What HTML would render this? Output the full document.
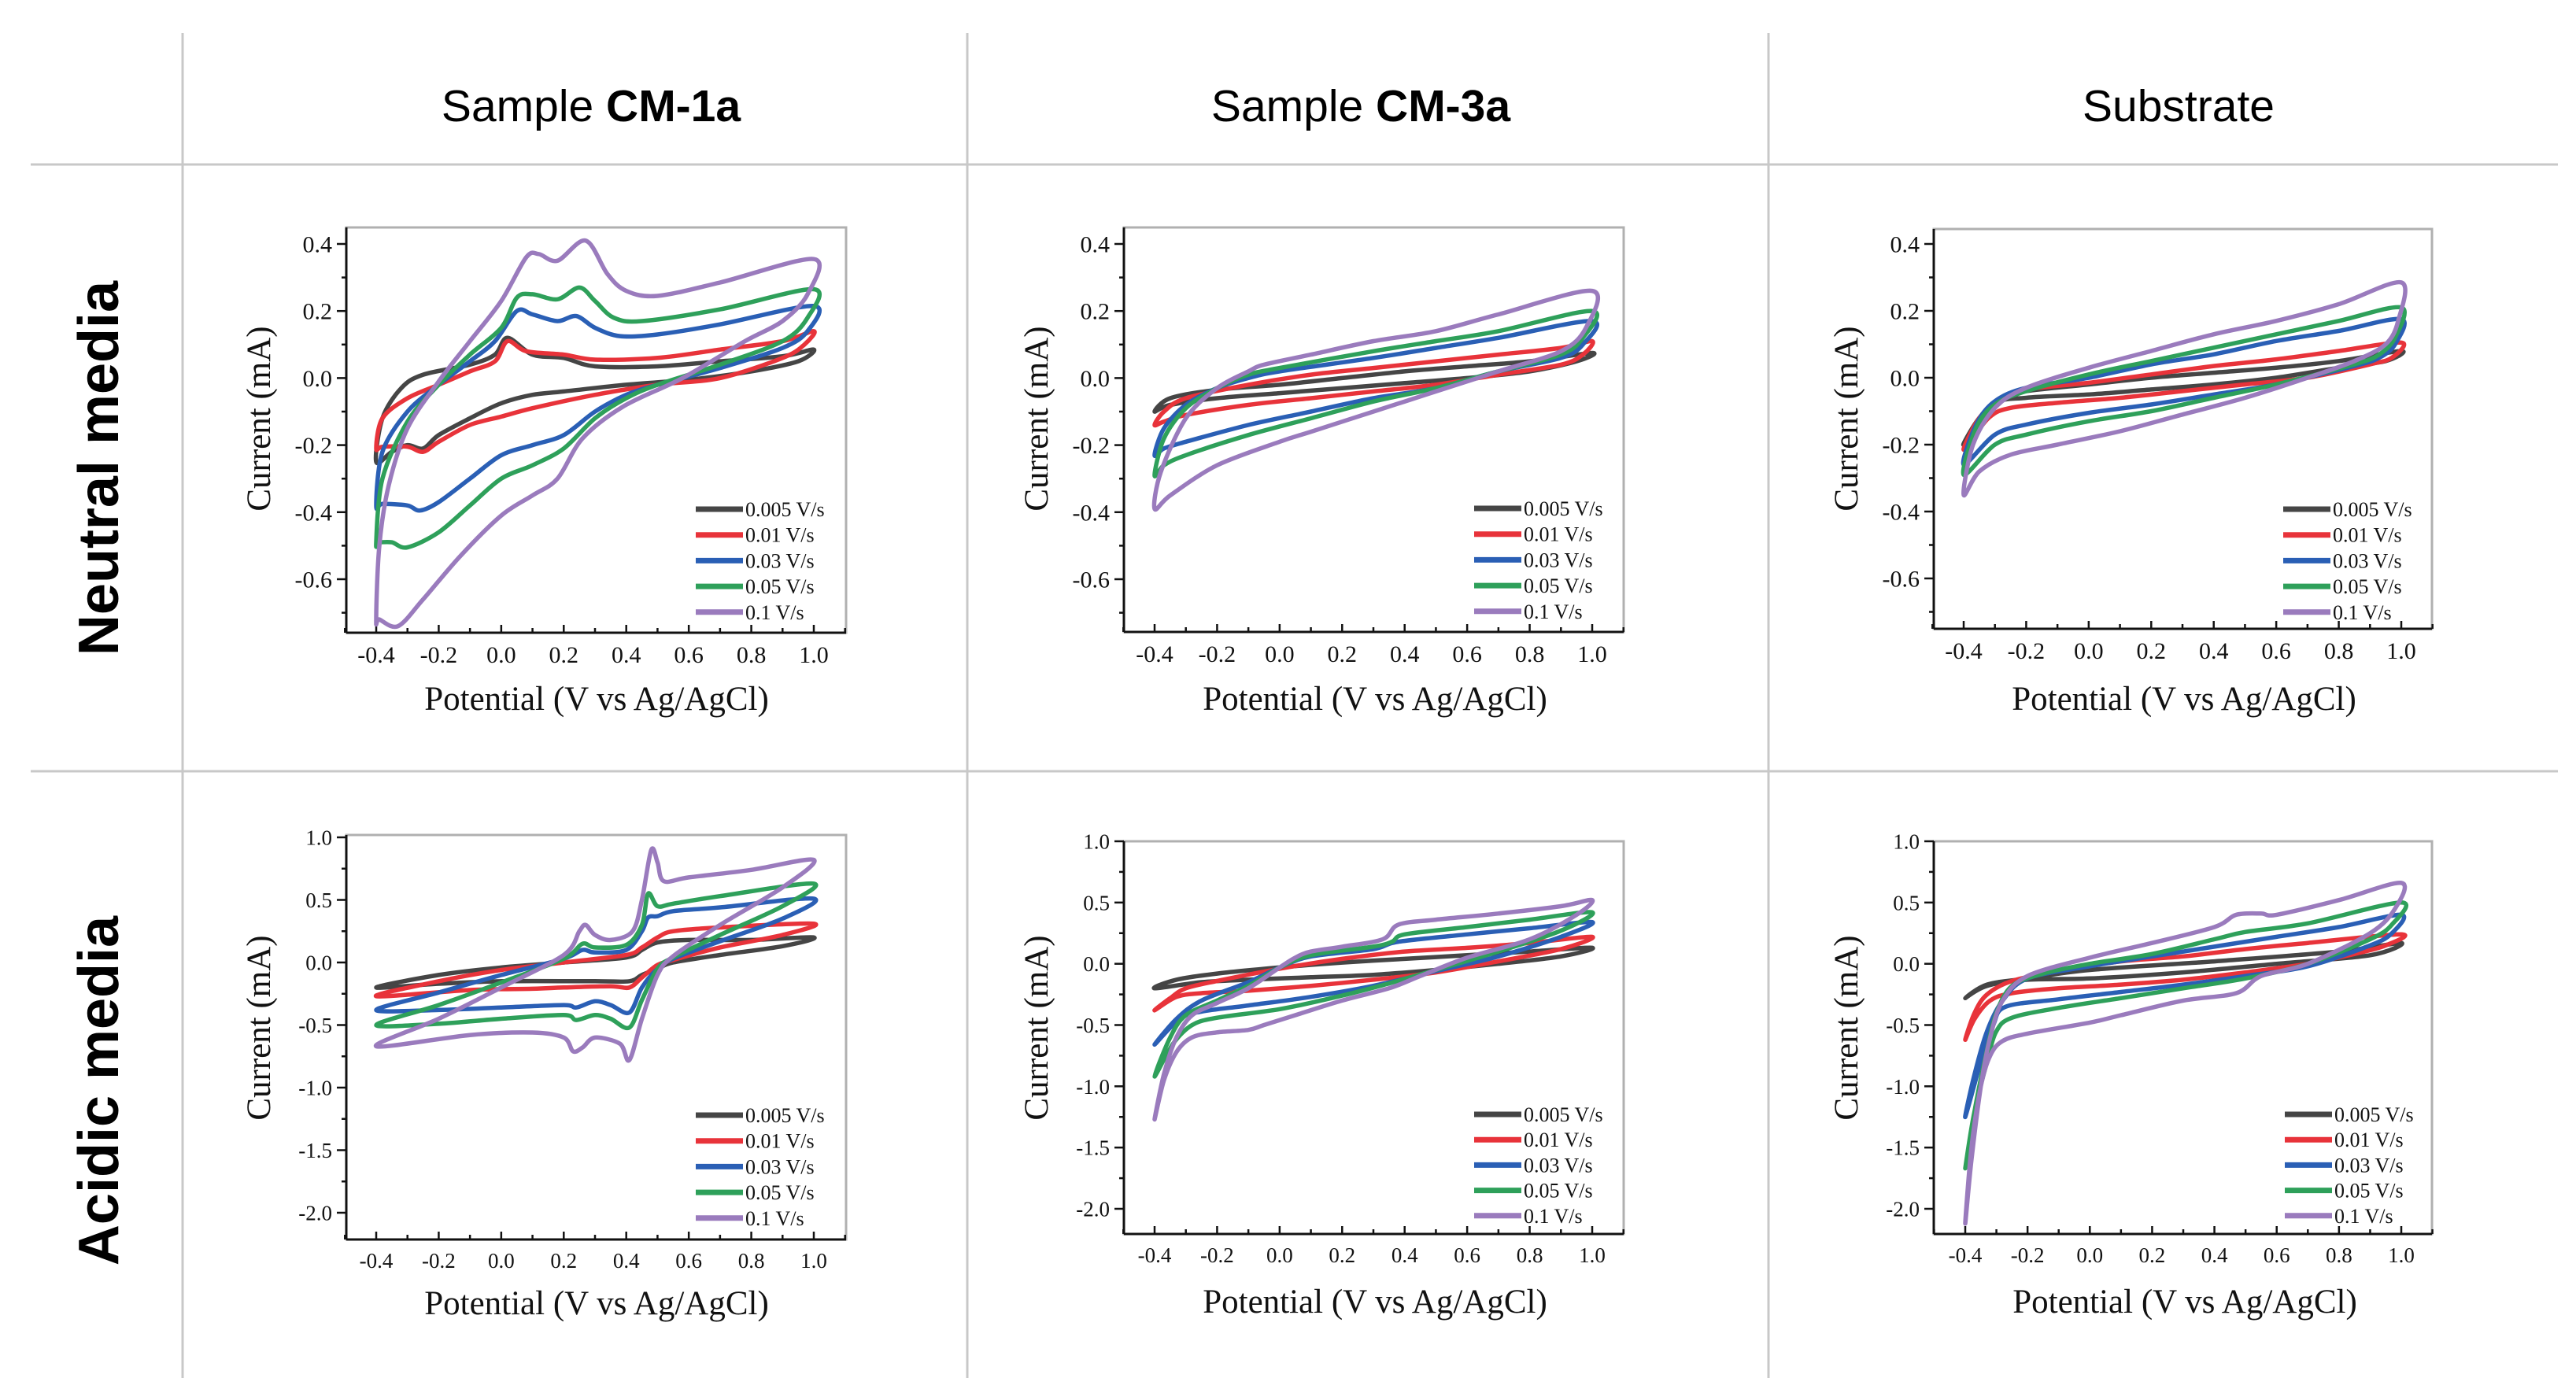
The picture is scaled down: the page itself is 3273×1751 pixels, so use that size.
<!DOCTYPE html>
<html><head><meta charset="utf-8">
<style>
html,body{margin:0;padding:0;background:#fff;}
svg{display:block;}
</style></head>
<body>
<svg id="fig" width="3273" height="1751" viewBox="0 0 3273 1751" xmlns="http://www.w3.org/2000/svg">
  <g stroke="#c8c8c8" stroke-width="3">
    <line x1="232" y1="42" x2="232" y2="1751"/>
    <line x1="1229" y1="42" x2="1229" y2="1751"/>
    <line x1="2247" y1="42" x2="2247" y2="1751"/>
    <line x1="39" y1="209" x2="3250" y2="209"/>
    <line x1="39" y1="980" x2="3250" y2="980"/>
  </g>
  <g font-family="'Liberation Sans', Arial, sans-serif" font-size="57" fill="#000" text-anchor="middle">
    <text x="751" y="154">Sample <tspan font-weight="bold">CM-1a</tspan></text>
    <text x="1729" y="154">Sample <tspan font-weight="bold">CM-3a</tspan></text>
    <text x="2768" y="154">Substrate</text>
    <text font-weight="bold" font-size="72" transform="translate(150,595) rotate(-90)">Neutral media</text>
    <text font-weight="bold" font-size="72" transform="translate(150,1386) rotate(-90)">Acidic media</text>
  </g>
  <g id="panels"></g>
</svg>
<script>
// ---- data: closed CV loops as [potential V, current mA] ----
const speeds = ["0.005 V/s","0.01 V/s","0.03 V/s","0.05 V/s","0.1 V/s"];
const colors = ["#454545","#e8333a","#2a5fb5","#2ea05a","#9a7bbd"];
const neutralYTicks = [0.4,0.2,0.0,-0.2,-0.4,-0.6];
const neutralYLabels = ["0.4","0.2","0.0","-0.2","-0.4","-0.6"];
const acidicYTicks = [1.0,0.5,0.0,-0.5,-1.0,-1.5,-2.0];
const acidicYLabels = ["1.0","0.5","0.0","-0.5","-1.0","-1.5","-2.0"];
const xTicks = [-0.4,-0.2,0.0,0.2,0.4,0.6,0.8,1.0];
const xLabels = ["-0.4","-0.2","0.0","0.2","0.4","0.6","0.8","1.0"];

// Neutral CM-1a
const nA_005 = [[-0.4,-0.25],[-0.38,-0.12],[-0.32,-0.03],[-0.25,0.01],[-0.1,0.04],[-0.02,0.07],[0.02,0.12],[0.1,0.07],[0.2,0.06],[0.3,0.035],[0.5,0.035],[0.7,0.05],[0.9,0.065],[1.0,0.085],[0.95,0.05],[0.8,0.02],[0.6,-0.005],[0.4,-0.02],[0.2,-0.04],[0.1,-0.05],[0.0,-0.075],[-0.1,-0.12],[-0.2,-0.17],[-0.25,-0.21],[-0.3,-0.2],[-0.35,-0.22]];
const nA_01 = [[-0.4,-0.21],[-0.38,-0.12],[-0.3,-0.06],[-0.2,-0.02],[-0.1,0.02],[-0.02,0.05],[0.02,0.11],[0.08,0.08],[0.2,0.07],[0.3,0.055],[0.5,0.06],[0.7,0.085],[0.9,0.11],[1.0,0.14],[0.97,0.1],[0.9,0.06],[0.7,0.0],[0.5,-0.02],[0.3,-0.05],[0.1,-0.09],[0.0,-0.115],[-0.1,-0.14],[-0.2,-0.19],[-0.25,-0.22],[-0.3,-0.205],[-0.38,-0.205]];
const nA_03 = [[-0.4,-0.38],[-0.38,-0.22],[-0.3,-0.1],[-0.2,-0.02],[-0.1,0.05],[-0.02,0.11],[0.05,0.2],[0.1,0.19],[0.18,0.17],[0.24,0.185],[0.3,0.15],[0.38,0.125],[0.5,0.13],[0.7,0.16],[1.0,0.215],[0.98,0.14],[0.9,0.09],[0.7,0.03],[0.5,-0.02],[0.4,-0.05],[0.3,-0.1],[0.2,-0.17],[0.1,-0.2],[0.0,-0.23],[-0.1,-0.3],[-0.2,-0.37],[-0.26,-0.395],[-0.3,-0.38],[-0.38,-0.375]];
const nA_05 = [[-0.4,-0.49],[-0.38,-0.3],[-0.3,-0.13],[-0.2,-0.02],[-0.1,0.07],[0.0,0.15],[0.05,0.24],[0.1,0.25],[0.18,0.235],[0.25,0.27],[0.3,0.23],[0.36,0.18],[0.45,0.17],[0.7,0.205],[1.0,0.265],[0.98,0.18],[0.9,0.11],[0.7,0.04],[0.5,-0.02],[0.4,-0.06],[0.3,-0.12],[0.2,-0.21],[0.1,-0.26],[0.0,-0.3],[-0.1,-0.38],[-0.2,-0.46],[-0.3,-0.505],[-0.35,-0.49],[-0.39,-0.49]];
const nA_1 = [[-0.4,-0.72],[-0.39,-0.5],[-0.36,-0.32],[-0.3,-0.15],[-0.2,-0.01],[-0.1,0.11],[0.0,0.23],[0.08,0.36],[0.12,0.37],[0.18,0.35],[0.27,0.41],[0.34,0.31],[0.4,0.26],[0.5,0.245],[0.7,0.285],[1.0,0.355],[0.98,0.25],[0.9,0.17],[0.78,0.11],[0.58,0.0],[0.39,-0.085],[0.26,-0.18],[0.18,-0.3],[0.1,-0.35],[0.0,-0.41],[-0.13,-0.53],[-0.25,-0.66],[-0.33,-0.74],[-0.39,-0.72]];
// Neutral CM-3a
const nB_005 = [[-0.4,-0.1],[-0.35,-0.06],[-0.2,-0.035],[0.0,-0.02],[0.2,0.0],[0.4,0.02],[0.6,0.035],[0.8,0.05],[1.0,0.075],[0.95,0.05],[0.8,0.02],[0.6,0.0],[0.4,-0.015],[0.2,-0.03],[0.0,-0.045],[-0.2,-0.06],[-0.35,-0.08]];
const nB_01 = [[-0.4,-0.14],[-0.37,-0.1],[-0.3,-0.06],[-0.1,-0.02],[0.1,0.01],[0.3,0.03],[0.5,0.05],[0.7,0.07],[0.9,0.09],[1.0,0.11],[0.97,0.07],[0.9,0.04],[0.7,0.01],[0.5,-0.02],[0.3,-0.04],[0.1,-0.06],[-0.1,-0.08],[-0.3,-0.11],[-0.37,-0.13]];
const nB_03 = [[-0.4,-0.23],[-0.37,-0.15],[-0.3,-0.08],[-0.2,-0.03],[-0.1,0.0],[0.0,0.02],[0.3,0.06],[0.5,0.09],[0.7,0.12],[1.0,0.17],[0.97,0.1],[0.9,0.06],[0.7,0.02],[0.5,-0.03],[0.3,-0.06],[0.1,-0.1],[-0.1,-0.14],[-0.3,-0.19],[-0.37,-0.21]];
const nB_05 = [[-0.4,-0.29],[-0.37,-0.18],[-0.3,-0.09],[-0.2,-0.03],[-0.1,0.01],[0.0,0.03],[0.3,0.08],[0.5,0.11],[0.7,0.14],[1.0,0.2],[0.97,0.12],[0.9,0.07],[0.7,0.02],[0.5,-0.03],[0.3,-0.07],[0.1,-0.12],[-0.1,-0.17],[-0.3,-0.23],[-0.37,-0.26]];
const nB_1 = [[-0.4,-0.39],[-0.38,-0.28],[-0.3,-0.12],[-0.2,-0.03],[-0.1,0.02],[-0.05,0.04],[0.1,0.07],[0.3,0.11],[0.5,0.14],[0.7,0.19],[1.0,0.26],[0.98,0.15],[0.9,0.08],[0.7,0.02],[0.5,-0.04],[0.3,-0.1],[0.1,-0.16],[0.0,-0.19],[-0.2,-0.26],[-0.35,-0.35]];
// Neutral substrate
const nC_005 = [[-0.4,-0.2],[-0.35,-0.12],[-0.28,-0.06],[-0.2,-0.04],[0.0,-0.02],[0.2,0.0],[0.4,0.015],[0.6,0.03],[0.8,0.05],[1.0,0.08],[0.95,0.05],[0.8,0.03],[0.6,0.0],[0.4,-0.02],[0.2,-0.035],[0.0,-0.05],[-0.2,-0.06],[-0.3,-0.08]];
const nC_01 = [[-0.4,-0.215],[-0.35,-0.12],[-0.28,-0.06],[-0.2,-0.035],[0.0,-0.015],[0.2,0.01],[0.4,0.035],[0.6,0.055],[0.8,0.08],[1.0,0.105],[0.97,0.06],[0.9,0.04],[0.7,0.0],[0.5,-0.02],[0.3,-0.04],[0.1,-0.06],[-0.1,-0.075],[-0.25,-0.09],[-0.32,-0.12]];
const nC_03 = [[-0.4,-0.26],[-0.36,-0.14],[-0.3,-0.07],[-0.2,-0.03],[0.0,0.0],[0.2,0.04],[0.4,0.07],[0.6,0.11],[0.8,0.14],[1.0,0.175],[0.98,0.1],[0.93,0.06],[0.85,0.035],[0.6,-0.02],[0.4,-0.05],[0.2,-0.08],[0.0,-0.105],[-0.2,-0.14],[-0.3,-0.17]];
const nC_05 = [[-0.4,-0.29],[-0.36,-0.15],[-0.3,-0.08],[-0.2,-0.04],[0.0,0.01],[0.2,0.05],[0.4,0.09],[0.6,0.13],[0.8,0.17],[1.0,0.21],[0.98,0.12],[0.93,0.07],[0.85,0.04],[0.6,-0.02],[0.4,-0.06],[0.2,-0.1],[0.0,-0.13],[-0.2,-0.17],[-0.3,-0.2]];
const nC_1 = [[-0.4,-0.35],[-0.37,-0.2],[-0.3,-0.09],[-0.2,-0.03],[0.0,0.03],[0.2,0.08],[0.4,0.13],[0.6,0.17],[0.8,0.22],[1.0,0.285],[0.99,0.17],[0.95,0.1],[0.85,0.05],[0.7,0.0],[0.5,-0.06],[0.3,-0.11],[0.1,-0.16],[-0.1,-0.2],[-0.25,-0.23],[-0.35,-0.28]];
// Acidic CM-1a
const aD_005 = [[-0.4,-0.2],[-0.2,-0.1],[0.0,-0.04],[0.2,0.0],[0.4,0.04],[0.45,0.1],[0.5,0.16],[0.6,0.18],[0.8,0.18],[1.0,0.2],[0.9,0.13],[0.7,0.06],[0.55,0.0],[0.5,-0.05],[0.45,-0.1],[0.41,-0.15],[0.3,-0.15],[0.0,-0.15],[-0.2,-0.17]];
const aD_01 = [[-0.4,-0.27],[-0.2,-0.15],[0.0,-0.06],[0.2,0.0],[0.4,0.06],[0.45,0.12],[0.5,0.2],[0.55,0.25],[0.7,0.28],[1.0,0.31],[0.9,0.22],[0.7,0.12],[0.55,0.02],[0.5,-0.02],[0.45,-0.12],[0.41,-0.2],[0.35,-0.19],[0.2,-0.2],[0.1,-0.21],[-0.1,-0.22]];
const aD_03 = [[-0.4,-0.38],[-0.2,-0.24],[0.0,-0.1],[0.2,0.03],[0.26,0.1],[0.3,0.08],[0.4,0.1],[0.45,0.25],[0.47,0.36],[0.5,0.37],[0.55,0.41],[0.7,0.44],[1.0,0.51],[0.9,0.35],[0.7,0.17],[0.55,0.03],[0.5,-0.05],[0.45,-0.2],[0.41,-0.4],[0.35,-0.34],[0.3,-0.31],[0.24,-0.36],[0.2,-0.34],[0.0,-0.36],[-0.2,-0.38]];
const aD_05 = [[-0.4,-0.5],[-0.2,-0.34],[0.0,-0.16],[0.2,0.03],[0.26,0.15],[0.3,0.12],[0.4,0.14],[0.45,0.3],[0.47,0.55],[0.5,0.45],[0.55,0.47],[0.7,0.53],[1.0,0.63],[0.9,0.45],[0.7,0.22],[0.55,0.04],[0.5,-0.05],[0.45,-0.3],[0.41,-0.52],[0.35,-0.45],[0.3,-0.42],[0.24,-0.46],[0.2,-0.42],[0.0,-0.45],[-0.2,-0.49]];
const aD_1 = [[-0.4,-0.67],[-0.2,-0.45],[0.0,-0.2],[0.2,0.06],[0.25,0.25],[0.27,0.3],[0.3,0.22],[0.35,0.18],[0.42,0.25],[0.45,0.5],[0.48,0.9],[0.5,0.8],[0.52,0.65],[0.6,0.68],[0.8,0.74],[1.0,0.82],[0.9,0.6],[0.7,0.3],[0.55,0.05],[0.5,-0.1],[0.45,-0.45],[0.41,-0.78],[0.38,-0.65],[0.3,-0.6],[0.26,-0.68],[0.23,-0.71],[0.2,-0.6],[0.1,-0.56],[-0.1,-0.58]];
// Acidic CM-3a
const aE_005 = [[-0.4,-0.2],[-0.33,-0.13],[-0.2,-0.08],[0.0,-0.03],[0.2,0.01],[0.4,0.04],[0.6,0.07],[0.8,0.1],[1.0,0.13],[0.9,0.06],[0.7,0.0],[0.5,-0.05],[0.3,-0.09],[0.1,-0.11],[-0.1,-0.13],[-0.25,-0.15]];
const aE_01 = [[-0.4,-0.38],[-0.35,-0.28],[-0.3,-0.2],[-0.2,-0.14],[0.0,-0.04],[0.2,0.04],[0.4,0.1],[0.6,0.13],[0.8,0.17],[1.0,0.22],[0.9,0.12],[0.7,0.02],[0.5,-0.07],[0.3,-0.13],[0.1,-0.18],[-0.1,-0.22],[-0.25,-0.24],[-0.33,-0.27]];
const aE_03 = [[-0.4,-0.66],[-0.33,-0.45],[-0.25,-0.3],[-0.1,-0.15],[0.0,-0.03],[0.1,0.06],[0.3,0.12],[0.38,0.18],[0.6,0.24],[0.8,0.29],[1.0,0.34],[0.9,0.22],[0.7,0.06],[0.5,-0.06],[0.3,-0.18],[0.1,-0.27],[-0.1,-0.34],[-0.25,-0.39],[-0.32,-0.45]];
const aE_05 = [[-0.4,-0.92],[-0.35,-0.6],[-0.3,-0.42],[-0.2,-0.3],[-0.1,-0.18],[0.0,-0.03],[0.1,0.07],[0.3,0.14],[0.36,0.18],[0.4,0.24],[0.6,0.3],[0.8,0.36],[1.0,0.42],[0.9,0.27],[0.7,0.1],[0.5,-0.05],[0.35,-0.16],[0.2,-0.26],[0.0,-0.37],[-0.2,-0.44],[-0.28,-0.5],[-0.34,-0.65]];
const aE_1 = [[-0.4,-1.27],[-0.37,-0.9],[-0.33,-0.6],[-0.28,-0.42],[-0.2,-0.32],[-0.1,-0.2],[0.0,-0.03],[0.05,0.05],[0.1,0.1],[0.2,0.14],[0.33,0.2],[0.38,0.32],[0.5,0.36],[0.7,0.41],[0.9,0.47],[1.0,0.52],[0.95,0.4],[0.8,0.2],[0.6,0.05],[0.45,-0.1],[0.35,-0.2],[0.2,-0.3],[0.05,-0.42],[-0.05,-0.5],[-0.1,-0.54],[-0.2,-0.56],[-0.28,-0.6],[-0.33,-0.72],[-0.37,-0.95]];
// Acidic substrate
const aF_005 = [[-0.4,-0.28],[-0.33,-0.17],[-0.2,-0.12],[0.0,-0.05],[0.4,0.02],[0.8,0.1],[1.0,0.17],[0.9,0.07],[0.6,0.0],[0.3,-0.07],[0.0,-0.12],[-0.2,-0.13],[-0.33,-0.18]];
const aF_01 = [[-0.4,-0.62],[-0.37,-0.4],[-0.33,-0.25],[-0.25,-0.14],[-0.1,-0.06],[0.1,0.02],[0.3,0.06],[0.5,0.12],[0.7,0.17],[1.0,0.24],[0.95,0.15],[0.85,0.08],[0.7,0.0],[0.5,-0.07],[0.3,-0.13],[0.1,-0.17],[-0.1,-0.2],[-0.25,-0.24],[-0.32,-0.3],[-0.37,-0.45]];
const aF_03 = [[-0.4,-1.25],[-0.37,-0.9],[-0.33,-0.55],[-0.28,-0.3],[-0.2,-0.12],[0.0,-0.02],[0.2,0.06],[0.4,0.14],[0.6,0.22],[0.8,0.3],[1.0,0.4],[0.97,0.25],[0.9,0.15],[0.7,-0.02],[0.5,-0.1],[0.3,-0.17],[0.1,-0.23],[-0.1,-0.29],[-0.27,-0.35],[-0.31,-0.5],[-0.35,-0.8]];
const aF_05 = [[-0.4,-1.67],[-0.37,-1.2],[-0.33,-0.7],[-0.3,-0.4],[-0.25,-0.18],[-0.15,-0.08],[0.0,0.0],[0.2,0.08],[0.4,0.2],[0.5,0.26],[0.7,0.33],[1.0,0.5],[0.97,0.32],[0.9,0.2],[0.7,0.0],[0.5,-0.12],[0.3,-0.2],[0.1,-0.28],[-0.1,-0.36],[-0.25,-0.44],[-0.3,-0.55],[-0.33,-0.8],[-0.37,-1.2]];
const aF_1 = [[-0.4,-2.12],[-0.38,-1.6],[-0.35,-1.0],[-0.32,-0.6],[-0.28,-0.3],[-0.2,-0.1],[0.0,0.05],[0.2,0.17],[0.4,0.3],[0.47,0.4],[0.55,0.41],[0.6,0.4],[0.8,0.52],[1.0,0.66],[0.98,0.45],[0.9,0.25],[0.7,0.0],[0.55,-0.1],[0.47,-0.24],[0.3,-0.3],[0.1,-0.42],[0.0,-0.48],[-0.2,-0.57],[-0.28,-0.63],[-0.32,-0.75],[-0.35,-1.0],[-0.38,-1.5]];

const NS = "http://www.w3.org/2000/svg";
const root = document.getElementById("panels");
function mk(tag, attrs, parent){ const e=document.createElementNS(NS,tag); for(const k in attrs) e.setAttribute(k,attrs[k]); (parent||root).appendChild(e); return e; }

function smoothPath(pts){
  const n=pts.length; let d="M"+pts[0][0].toFixed(1)+","+pts[0][1].toFixed(1);
  for(let i=0;i<n;i++){
    const p0=pts[(i-1+n)%n],p1=pts[i],p2=pts[(i+1)%n],p3=pts[(i+2)%n];
    const t=0.16;
    const c1=[p1[0]+(p2[0]-p0[0])*t,p1[1]+(p2[1]-p0[1])*t];
    const c2=[p2[0]-(p3[0]-p1[0])*t,p2[1]-(p3[1]-p1[1])*t];
    d+=" C"+c1[0].toFixed(1)+","+c1[1].toFixed(1)+" "+c2[0].toFixed(1)+","+c2[1].toFixed(1)+" "+p2[0].toFixed(1)+","+p2[1].toFixed(1);
  }
  return d+"Z";
}

function panel(cfg){
  const g=mk("g",{});
  
  
  const sx=v=>cfg.px0+(v+0.4)*(cfg.px1-cfg.px0)/1.4;
  const sy=v=>cfg.py0+(cfg.v0-v)*(cfg.py1-cfg.py0)/(cfg.v0-cfg.v1);
  const L=cfg.box[0],T=cfg.box[1],R=cfg.box[2],B=cfg.box[3];
  // frame
  const fr=mk("rect",{x:L,y:T,width:R-L,height:B-T,fill:"none",stroke:"#b0b0b0","stroke-width":3},g);
  
  
  const ya=mk("line",{x1:L,y1:T,x2:L,y2:B,stroke:"#111","stroke-width":3},g);
  
  
  const xa=mk("line",{x1:L,y1:B,x2:R,y2:B,stroke:"#111","stroke-width":3},g);
  
  
  // x ticks
  for(let k=-5;k<=11;k++){
    const v=k/10, X=sx(v), major=(k%2===0);
    const t=mk("line",{x1:X,y1:B,x2:X,y2:B-(major?10:6),stroke:"#111","stroke-width":2.5},g);
    
    
  }
  xTicks.forEach((v,i)=>{
    const t=mk("text",{x:sx(v),y:B+cfg.xlabDy,"text-anchor":"middle","font-size":cfg.tickFs,"font-family":"'Liberation Serif', serif",fill:"#111"},g);
    t.textContent=xLabels[i];
    
    
  });
  // y ticks
  const step=cfg.yTicks[0]-cfg.yTicks[1];
  const lo=cfg.yMin, hi=cfg.v0;
  for(let v=hi; v>=lo-1e-9; v-=step/2){
    const Y=sy(v); const major=cfg.yTicks.some(t=>Math.abs(t-v)<1e-6);
    const t=mk("line",{x1:L,y1:Y,x2:L-(major?12:6),y2:Y,stroke:"#111","stroke-width":2.5},g);
    
    
  }
  cfg.yTicks.forEach((v,i)=>{
    const t=mk("text",{x:L-18,y:sy(v)+cfg.tickFs*0.35,"text-anchor":"end","font-size":cfg.tickFs,"font-family":"'Liberation Serif', serif",fill:"#111"},g);
    t.textContent=cfg.yLabels[i];
    
    
  });
  // titles
  const xt=mk("text",{x:(cfg.px0+cfg.px1)/2+2,y:cfg.xTitleY,"text-anchor":"middle","font-size":43,"font-family":"'Liberation Serif', serif",fill:"#111"},g);
  xt.textContent="Potential (V vs Ag/AgCl)";
  
  
  const yt=mk("text",{transform:"translate("+cfg.yTitleX+","+cfg.yTitleY+") rotate(-90)","text-anchor":"middle","font-size":43,"font-family":"'Liberation Serif', serif",fill:"#111"},g);
  yt.textContent="Current (mA)";
  
  
  // series
  cfg.series.forEach((s,i)=>{
    const pts=s.map(p=>[sx(p[0]),sy(p[1])]);
    const p=mk("path",{d:smoothPath(pts),fill:"none",stroke:colors[i],"stroke-width":5.5,"stroke-linejoin":"round"},g);
    
    
  });
  // legend
  speeds.forEach((s,i)=>{
    const y=cfg.legY+i*cfg.legDy;
    const l=mk("line",{x1:cfg.px0+406,y1:y,x2:cfg.px0+466,y2:y,stroke:colors[i],"stroke-width":7},g);
    
    
    const t=mk("text",{x:cfg.px0+469,y:y+9,"font-size":26,"font-family":"'Liberation Serif', serif",fill:"#111"},g);
    t.textContent=s;
    
    
  });
}

const nTicks={yTicks:neutralYTicks,yLabels:neutralYLabels,v0:0.4,v1:-0.6,yMin:-0.7,tickFs:30,xlabDy:38,xTitleY:902};
const aTicks={yTicks:acidicYTicks,yLabels:acidicYLabels,v0:1.0,v1:-2.0,yMin:-2.0,tickFs:27,xlabDy:36};
panel(Object.assign({},nTicks,{name:"panel-neutral-cm1a",px0:478,px1:1034,py0:310,py1:736,box:[440,289,1075,804],yTitleX:343,yTitleY:532,legY:647,legDy:32.7,series:[nA_005,nA_01,nA_03,nA_05,nA_1]}));
panel(Object.assign({},nTicks,{name:"panel-neutral-cm3a",px0:1467,px1:2023,py0:310,py1:736,box:[1428,289,2063,803],yTitleX:1331,yTitleY:532,legY:646,legDy:32.7,series:[nB_005,nB_01,nB_03,nB_05,nB_1]}));
panel(Object.assign({},nTicks,{name:"panel-neutral-substrate",px0:2495,px1:3051,py0:310,py1:735,box:[2457,291,3090,799],yTitleX:2360,yTitleY:532,legY:647,legDy:32.7,series:[nC_005,nC_01,nC_03,nC_05,nC_1]}));
panel(Object.assign({},aTicks,{name:"panel-acidic-cm1a",px0:478,px1:1034,py0:1064,py1:1541,box:[440,1061,1075,1575],xTitleY:1670,yTitleX:343,yTitleY:1306,legY:1417,legDy:32.7,series:[aD_005,aD_01,aD_03,aD_05,aD_1]}));
panel(Object.assign({},aTicks,{name:"panel-acidic-cm3a",px0:1467,px1:2023,py0:1069,py1:1536,box:[1428,1069,2063,1568],xTitleY:1668,yTitleX:1331,yTitleY:1306,legY:1416,legDy:32.2,series:[aE_005,aE_01,aE_03,aE_05,aE_1]}));
panel(Object.assign({},aTicks,{name:"panel-acidic-substrate",px0:2497,px1:3051,py0:1069,py1:1536,box:[2457,1069,3090,1568],xTitleY:1668,yTitleX:2360,yTitleY:1306,legY:1416,legDy:32.2,series:[aF_005,aF_01,aF_03,aF_05,aF_1]}));
</script>
</body></html>
